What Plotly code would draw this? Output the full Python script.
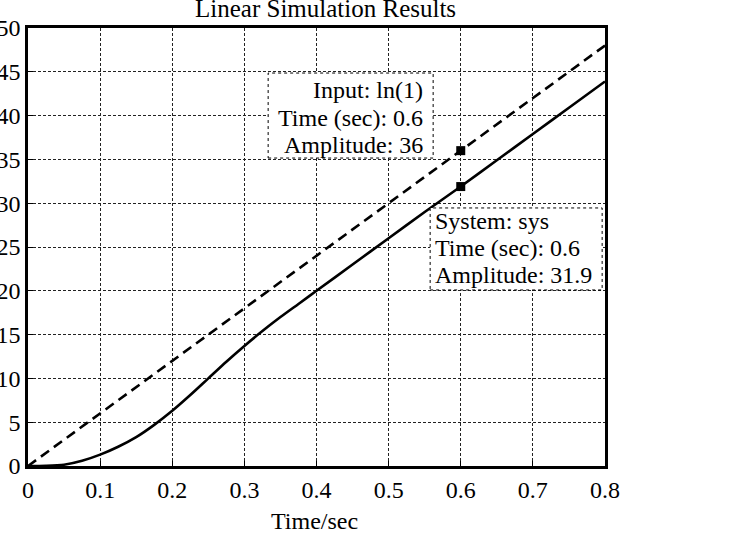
import plotly.graph_objects as go

# ---- data ----
t_input = [0.0, 0.8]
u_input = [0.0, 48.0]

t_sys = [0, 0.025, 0.05, 0.075, 0.1, 0.125, 0.15, 0.175, 0.2, 0.225, 0.25, 0.275,
         0.3, 0.325, 0.35, 0.375, 0.4, 0.45, 0.5, 0.55, 0.6, 0.65, 0.7, 0.75, 0.8]
y_sys = [0, 0.02, 0.15, 0.6, 1.3, 2.2, 3.3, 4.7, 6.3, 8.1, 10.0, 11.9,
         13.7, 15.4, 17.0, 18.5, 20.0, 23.0, 26.0, 29.0, 31.9, 34.9, 37.9, 40.9, 43.9]

tip_t = [0.6, 0.6]
tip_amp = [36, 31.9]
tip_names = ["Input: ln(1)", "System: sys"]

x_ticks = [0, 0.1, 0.2, 0.3, 0.4, 0.5, 0.6, 0.7, 0.8]
x_labels = ["0", "0.1", "0.2", "0.3", "0.4", "0.5", "0.6", "0.7", "0.8"]
y_ticks = [0, 5, 10, 15, 20, 25, 30, 35, 40, 45, 50]
y_labels = [str(v) for v in y_ticks]

FONT = "Liberation Serif, Times New Roman, serif"

fig = go.Figure()
fig.add_trace(go.Scatter(x=t_input, y=u_input, mode="lines",
                         line=dict(color="black", width=2.6, dash="10px,6px"),
                         showlegend=False, hoverinfo="skip"))
fig.add_trace(go.Scatter(x=t_sys, y=y_sys, mode="lines",
                         line=dict(color="black", width=2.6, shape="spline", smoothing=0.8),
                         showlegend=False, hoverinfo="skip"))
fig.add_trace(go.Scatter(x=tip_t, y=tip_amp, mode="markers",
                         marker=dict(symbol="square", size=9, color="black"),
                         showlegend=False, hoverinfo="skip"))

axis_common = dict(showline=True, linecolor="black", linewidth=2.5, mirror=True,
                   ticks="inside", ticklen=5, tickcolor="black", tickwidth=1,
                   showgrid=True, gridcolor="#222", gridwidth=1, griddash="3px,2px",
                   zeroline=False, automargin=False,
                   tickfont=dict(family=FONT, size=24, color="black"))

fig.update_xaxes(range=[0, 0.8], tickvals=x_ticks, ticktext=x_labels, **axis_common)
fig.update_yaxes(range=[0, 50], tickvals=y_ticks, ticktext=y_labels,
                 ticklabelstandoff=0, **axis_common)

# datatip boxes (dotted frames anchored on the tip points)
fig.add_shape(type="rect", xref="x", yref="y", xsizemode="pixel", ysizemode="pixel",
              xanchor=tip_t[0], yanchor=tip_amp[0], x0=-192.6, x1=-27.6, y0=-7.4, y1=77.6,
              line=dict(color="black", width=1, dash="dot"), fillcolor="white", layer="above")
fig.add_shape(type="rect", xref="x", yref="y", xsizemode="pixel", ysizemode="pixel",
              xanchor=tip_t[1], yanchor=tip_amp[1], x0=-30.6, x1=141.4, y0=-103.4, y1=-21.4,
              line=dict(color="black", width=1, dash="dot"), fillcolor="white", layer="above")

tip1_lines = [tip_names[0], f"Time (sec): {tip_t[0]:g}", f"Amplitude: {tip_amp[0]:g}"]
tip2_lines = [tip_names[1], f"Time (sec): {tip_t[1]:g}", f"Amplitude: {tip_amp[1]:g}"]
for txt, ys in zip(tip1_lines, [60.6, 32.6, 5.6]):
    fig.add_annotation(x=tip_t[0], y=tip_amp[0], xref="x", yref="y", text=txt,
                       showarrow=False, xanchor="right", yanchor="middle",
                       xshift=-37.6, yshift=ys, borderpad=0, borderwidth=0,
                       font=dict(family=FONT, size=24, color="black"))
for txt, ys in zip(tip2_lines, [-34.4, -61.4, -88.4]):
    fig.add_annotation(x=tip_t[1], y=tip_amp[1], xref="x", yref="y", text=txt,
                       showarrow=False, xanchor="left", yanchor="middle",
                       xshift=-25.6, yshift=ys, borderpad=0, borderwidth=0,
                       font=dict(family=FONT, size=24, color="black"))

# title and x-axis label
fig.add_annotation(x=(325 - 28) / 577, y=1, xref="paper", yref="paper",
                   text="Linear Simulation Results", showarrow=False,
                   xanchor="center", yanchor="middle", yshift=20,
                   font=dict(family=FONT, size=25, color="black"))
fig.add_annotation(x=(314 - 28) / 577, y=0, xref="paper", yref="paper",
                   text="Time/sec", showarrow=False,
                   xanchor="center", yanchor="middle", yshift=-55,
                   font=dict(family=FONT, size=24, color="black"))

fig.update_layout(width=750, height=560, template="none",
                  margin=dict(l=28, r=145, t=28, b=94, pad=0),
                  paper_bgcolor="white", plot_bgcolor="white",
                  showlegend=False)

fig.write_html("out.html")
